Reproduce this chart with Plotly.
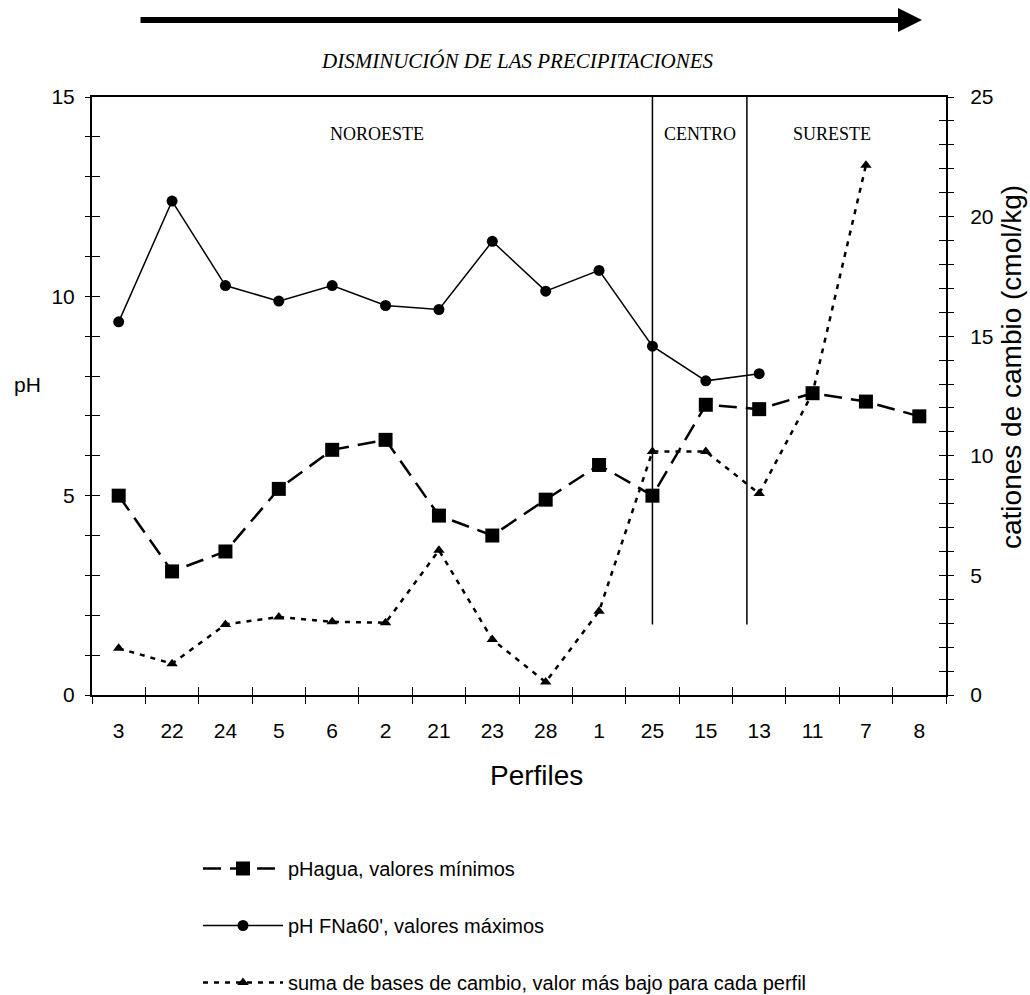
import plotly.graph_objects as go

perfiles = ["3", "22", "24", "5", "6", "2", "21", "23", "28", "1", "25", "15", "13", "11", "7", "8"]
ph_agua_min = [5.0, 3.1, 3.6, 5.17, 6.15, 6.4, 4.5, 4.0, 4.9, 5.77, 5.0, 7.28, 7.17, 7.57, 7.36, 6.99]
ph_fna_max = [9.36, 12.39, 10.27, 9.88, 10.27, 9.77, 9.67, 11.38, 10.13, 10.65, 8.75, 7.88, 8.06, None, None, None]
suma_bases = [1.95, 1.31, 2.95, 3.26, 3.06, 3.02, 6.05, 2.32, 0.54, 3.5, 10.18, 10.18, 8.42, 12.62, 22.15, None]

regiones = ["NOROESTE", "CENTRO", "SURESTE"]
limites_region = [10, 11.77]

W, H = 1030, 995
L, R, T, B = 92, 946, 97, 695


def px(x):
    return (x - L) / (R - L)


def py(y):
    return (B - y) / (B - T)


fig = go.Figure()
fig.add_trace(go.Scatter(
    x=perfiles, y=ph_agua_min, name="pHagua, valores mínimos",
    mode="lines+markers", legendgroup="a",
    line=dict(color="black", width=2.5, dash="18px,9px"),
    marker=dict(symbol="square", size=14, color="black"),
))
fig.add_trace(go.Scatter(
    x=perfiles, y=ph_fna_max, name="pH FNa60', valores máximos",
    mode="lines+markers", legendgroup="b",
    line=dict(color="black", width=1.5),
    marker=dict(symbol="circle", size=11, color="black"),
))
fig.add_trace(go.Scatter(
    x=perfiles, y=suma_bases, name="suma de bases de cambio, valor más bajo para cada perfil",
    mode="lines+markers", legendgroup="c", yaxis="y2",
    line=dict(color="black", width=2.5, dash="5px,6px"),
    marker=dict(symbol="triangle-up", size=10, color="black"),
))
# empty helper traces so the inner halves of the crossing tick marks are drawn
fig.add_trace(go.Scatter(x=[perfiles[0]], y=[None], xaxis="x2", yaxis="y3",
                         showlegend=False, hoverinfo="skip", mode="lines"))
fig.add_trace(go.Scatter(x=[perfiles[0]], y=[None], xaxis="x2", yaxis="y4",
                         showlegend=False, hoverinfo="skip", mode="lines"))

for xv in limites_region:
    fig.add_shape(type="line", xref="x", yref="y", x0=xv, x1=xv, y0=1.77, y1=15,
                  line=dict(color="black", width=1.5))

ann = []
for text, xc in zip(regiones, [377, 700, 832]):
    ann.append(dict(text=text, x=px(xc), y=py(134), xref="paper", yref="paper",
                    xanchor="center", yanchor="middle", showarrow=False,
                    font=dict(family="Liberation Serif", size=18, color="black")))
ann.append(dict(text="<i>DISMINUCIÓN DE LAS PRECIPITACIONES</i>", x=px(517), y=py(61),
                xref="paper", yref="paper", xanchor="center", yanchor="middle",
                showarrow=False, font=dict(family="Liberation Serif", size=21, color="black")))
ann.append(dict(text="", x=px(922), y=py(20), xref="paper", yref="paper",
                showarrow=True, ax=-783, ay=0, arrowhead=2, arrowsize=0.8,
                arrowwidth=6, arrowcolor="black"))
ann.append(dict(text="Perfiles", x=px(536), y=py(775), xref="paper", yref="paper",
                xanchor="center", yanchor="middle", showarrow=False,
                font=dict(family="Liberation Sans", size=28, color="black")))
ann.append(dict(text="pH", x=px(27), y=py(384), xref="paper", yref="paper",
                xanchor="center", yanchor="middle", showarrow=False,
                font=dict(family="Liberation Sans", size=21, color="black")))
ann.append(dict(text="cationes de cambio (cmol/kg)", x=px(1011), y=py(367), xref="paper",
                yref="paper", xanchor="center", yanchor="middle", showarrow=False,
                textangle=-90, font=dict(family="Liberation Sans", size=28, color="black")))

tick_font = dict(family="Liberation Sans", size=21, color="black")

fig.update_layout(
    width=W, height=H,
    margin=dict(l=L, r=W - R, t=T, b=H - B, autoexpand=False),
    paper_bgcolor="white", plot_bgcolor="white",
    font=dict(family="Liberation Sans", size=20, color="black"),
    annotations=ann,
    showlegend=True,
    legend=dict(x=px(198), y=py(849), xanchor="left", yanchor="top",
                tracegroupgap=28, itemwidth=80,
                font=dict(family="Liberation Sans", size=20, color="black"),
                bgcolor="rgba(0,0,0,0)"),
    xaxis=dict(type="category", categoryorder="array", categoryarray=perfiles,
               range=[-0.5, 15.5], showline=True, linecolor="black", linewidth=2,
               mirror=True, ticks="outside", tickson="boundaries", ticklen=7,
               tickcolor="black", tickwidth=1, showgrid=False, zeroline=False,
               tickfont=tick_font, ticklabelstandoff=16),
    xaxis2=dict(type="category", categoryorder="array", categoryarray=perfiles,
                range=[-0.5, 15.5], overlaying="x", anchor="y3", side="bottom",
                showline=False, ticks="inside", tickson="boundaries", ticklen=8,
                tickcolor="black", tickwidth=1, showticklabels=False,
                showgrid=False, zeroline=False),
    yaxis=dict(range=[0, 15], dtick=5, showline=True, linecolor="black", linewidth=2,
               ticks="outside", ticklen=5, tickcolor="black", showgrid=False,
               zeroline=False, tickfont=tick_font, ticklabelstandoff=6,
               minor=dict(dtick=1, ticks="outside", ticklen=5, tickcolor="black")),
    yaxis2=dict(range=[0, 25], dtick=5, overlaying="y", side="right", showline=True,
                linecolor="black", linewidth=2, ticks="outside", ticklen=6,
                tickcolor="black", showgrid=False, zeroline=False, tickfont=tick_font,
                ticklabelstandoff=12,
                minor=dict(dtick=1, ticks="outside", ticklen=6, tickcolor="black")),
    yaxis3=dict(range=[0, 15], dtick=5, overlaying="y", anchor="x2", side="left",
                showline=False, ticks="inside", ticklen=8, tickcolor="black",
                showticklabels=False, showgrid=False, zeroline=False,
                minor=dict(dtick=1, ticks="inside", ticklen=8, tickcolor="black")),
    yaxis4=dict(range=[0, 25], dtick=5, overlaying="y", anchor="x2", side="right",
                showline=False, ticks="inside", ticklen=7, tickcolor="black",
                showticklabels=False, showgrid=False, zeroline=False,
                minor=dict(dtick=1, ticks="inside", ticklen=7, tickcolor="black")),
)

fig.write_html("out.html", config={"displayModeBar": False},
               post_script="document.body.style.margin='0';")
